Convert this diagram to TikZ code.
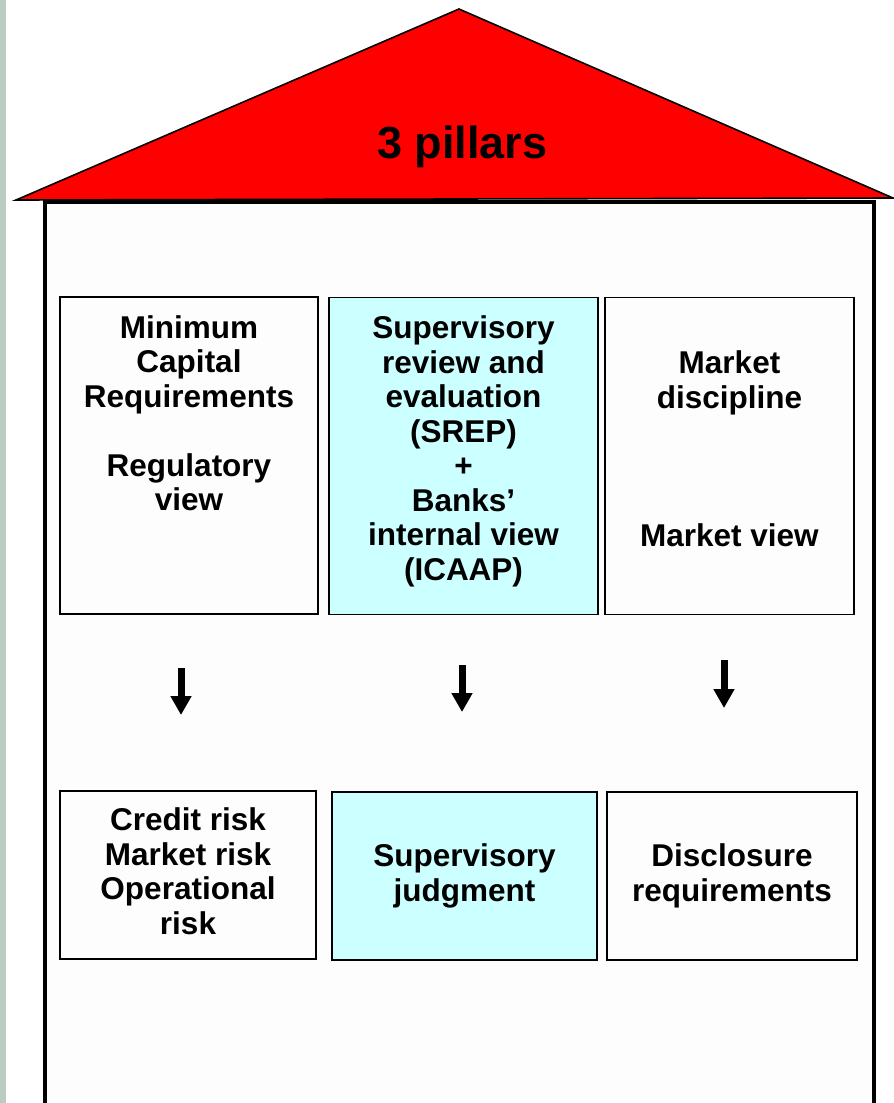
\documentclass[tikz,border=0pt]{standalone}
\usepackage{fontspec}
\setmainfont{Liberation Sans}
\usetikzlibrary{arrows.meta}

\definecolor{stripgreen}{RGB}{187,204,193}
\definecolor{roofred}{RGB}{255,0,0}
\definecolor{wallfill}{RGB}{253,253,253}
\definecolor{pillarcyan}{RGB}{204,255,255}

\tikzset{
  wall/.style={draw=black, line width=4pt, fill=wallfill},
  roof/.style={draw=black, line width=1.6pt, fill=roofred, line join=miter},
  pillar/.style={draw=black, line width=1.5pt, fill=wallfill, inner sep=0pt},
  cyanpillar/.style={pillar, fill=pillarcyan},
  label/.style={font=\fontsize{31.5}{34.5}\selectfont\bfseries, align=center, inner sep=0pt},
  title/.style={font=\fontsize{45}{50}\selectfont\bfseries, inner sep=0pt},
  downarrow/.style={line width=7pt, -{Triangle[width=20pt,length=19pt]}},
}

\begin{document}
\begin{tikzpicture}[x=1pt,y=-1pt]
\useasboundingbox (0,0) rectangle (894,1103);

% side strip
\fill[stripgreen] (0,0) rectangle (6,1103);

% roof and walls
\draw[roof] (16,200) -- (459,9) -- (893,198) -- cycle;
\draw[wall] (45,202) rectangle (874,1114);
\node[title, anchor=base] (roofttl) at (462.5,158) {3 pillars};

% upper row of pillars
\node[pillar, minimum width=258, minimum height=317] (mcr) at (189,455.5) {};
\node[cyanpillar, minimum width=269, minimum height=317] (srep) at (463.5,456) {};
\node[pillar, minimum width=249, minimum height=317] (mkt) at (729.5,456) {};

\node[label, anchor=north] (mcrtxt) at ([yshift=-19]mcr.north)
  {Minimum\\Capital\\Requirements\\[34.5pt]Regulatory\\view};
\node[label, anchor=north] (sreptxt) at ([yshift=-19]srep.north)
  {Supervisory\\review and\\evaluation\\(SREP)\\+\\Banks’\\internal view\\(ICAAP)};
\node[label, anchor=north] (mkttxt) at ([yshift=-54]mkt.north)
  {Market\\discipline\\[103.5pt]Market view};

% lower row of pillars
\node[pillar, minimum width=256, minimum height=168] (risk) at (188,875) {};
\node[label] (risktxt) at ([yshift=4]risk.center)
  {Credit risk\\Market risk\\Operational\\risk};
\node[cyanpillar, label, minimum width=265, minimum height=168] (judg) at (464.5,876)
  {Supervisory\\judgment};
\node[pillar, label, minimum width=250, minimum height=168] (discl) at (732,876)
  {Disclosure\\requirements};

% arrows between the rows
\coordinate (a1s) at (181,668); \coordinate (a1e) at (181,715);
\coordinate (a2s) at (462,665); \coordinate (a2e) at (462,712);
\coordinate (a3s) at (724,660); \coordinate (a3e) at (724,708);
\draw[downarrow] (a1s) -- (a1e);
\draw[downarrow] (a2s) -- (a2e);
\draw[downarrow] (a3s) -- (a3e);
\end{tikzpicture}
\end{document}
